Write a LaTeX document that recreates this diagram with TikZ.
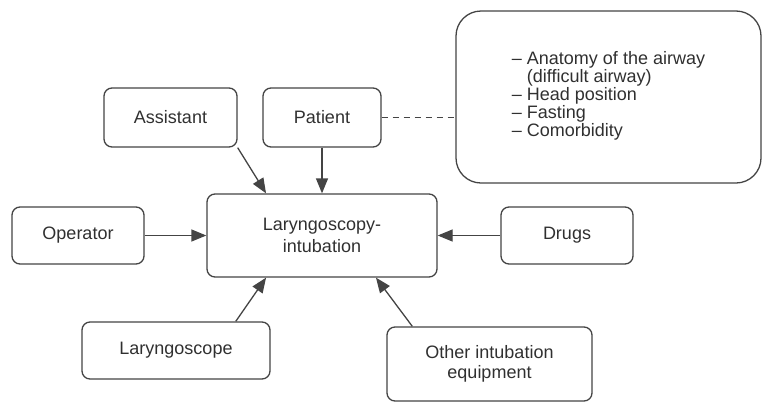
\documentclass[tikz,border=0pt]{standalone}
\usepackage{fontspec}
\setmainfont{Liberation Sans}
\usetikzlibrary{arrows.meta}
\definecolor{inkgray}{HTML}{303030}
\definecolor{linegray}{HTML}{444444}
\tikzset{
   factor/.style={draw=linegray, line width=1.3pt, rounded corners=8pt, align=center,
      text=inkgray, font=\fontsize{18}{21}\selectfont, inner sep=0pt},
   feed/.style={-{Triangle[length=15pt,width=12pt]}, draw=linegray, line width=1.3pt}
}
\begin{document}
\begin{tikzpicture}[x=1pt,y=-1pt]
      \useasboundingbox (0,0) rectangle (762,402);
      \begin{scope}
         \def \Boxes {
            asst/170.5/117.5/133/59/Assistant,
            pat/322/117.5/118/59/Patient,
            op/78/235.5/132/57/Operator,
            drug/567/235.5/132/57/Drugs,
            lary/176/350.5/188/57/Laryngoscope}
         \foreach \no / \x / \y / \w / \h / \na in \Boxes {
            \node[factor, minimum width=\w pt, minimum height=\h pt] (\no) at (\x, \y){\na};
         }
         \node[factor, minimum width=230pt, minimum height=83pt,
            font=\fontsize{18}{21.5}\selectfont] (main) at (322, 235.5){Laryngoscopy-\\intubation};
         \node[factor, minimum width=205pt, minimum height=74pt,
            font=\fontsize{18}{20}\selectfont] (oth) at (489.5, 364){Other intubation\\equipment};
         \node[factor, rounded corners=25pt, minimum width=305pt, minimum height=172pt,
            align=left, font=\fontsize{18}{18}\selectfont] (info) at (608.5, 97){%
            -- Anatomy of the airway\\\phantom{-- }(difficult airway)\\-- Head position\\-- Fasting\\-- Comorbidity\\[-12pt]};
      \end{scope}
      \foreach \u / \v in {asst.south east/main.143, pat/main, op/main, drug/main,
            lary.26/main.217, oth.154/main.322} {
         \draw[feed] (\u) -- (\v);
      }
      \draw[linegray, line width=1.3pt, dash pattern=on 6pt off 5pt] (pat.east) -- (pat.east -| info.west);
\end{tikzpicture}
\end{document}
